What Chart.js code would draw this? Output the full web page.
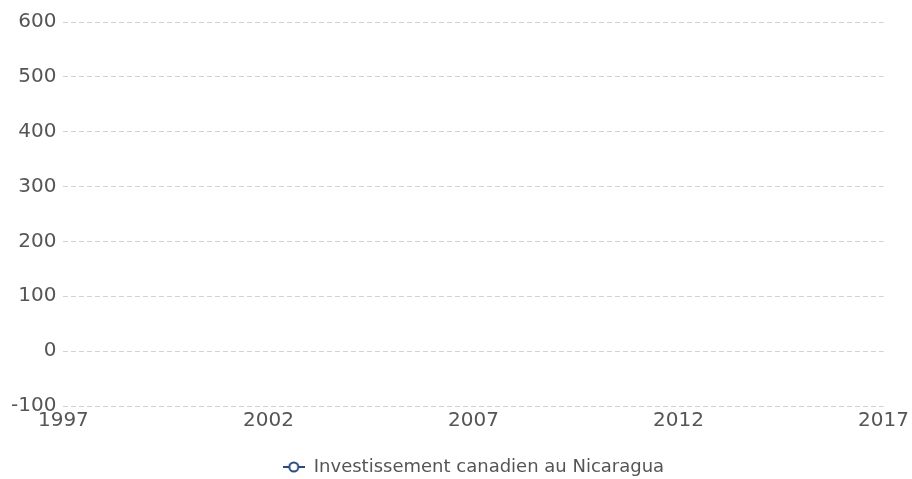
<!DOCTYPE html>
<html>
<head>
<meta charset="utf-8">
<script src="https://cdn.jsdelivr.net/npm/chart.js@4/dist/chart.umd.min.js"></script>
<style>
  html, body { margin: 0; padding: 0; background: #fff; }
  #wrap { width: 912px; height: 479px; }
</style>
</head>
<body>
<div id="wrap"><canvas id="invest__chart"></canvas></div>
<script>
// years shown on the axis, and the series (no value is drawn in the picture)
var years = [1997, 2002, 2007, 2012, 2017];
var investValues = [null, null, null, null, null];
var seriesLabel = 'Investissement canadien au Nicaragua';
var lineColor = '#2d4a7c';

// legend marker: short line through a hollow circle
var marker = document.createElement('canvas');
marker.width = 22; marker.height = 14;
var m = marker.getContext('2d');
m.strokeStyle = lineColor;
m.lineWidth = 2;
m.beginPath(); m.moveTo(0, 7); m.lineTo(22, 7); m.stroke();
m.beginPath(); m.arc(11, 7, 4.5, 0, Math.PI * 2);
m.fillStyle = '#fff'; m.fill(); m.stroke();

var ctx = document.getElementById('invest__chart').getContext('2d');
var chart = new Chart(ctx, {
    type: 'line',
    data: {
        datasets: [{
            label: seriesLabel,
            data: years.map(function (y, i) { return { x: y, y: investValues[i] }; }),
            borderColor: lineColor,
            backgroundColor: '#fff',
            pointStyle: 'circle',
            borderWidth: 2
        }]
    },
    options: {
        responsive: true,
        maintainAspectRatio: false,
        animation: false,
        layout: { padding: { top: 22, right: 0, left: 4, bottom: -7 } },
        plugins: {
            tooltip: { enabled: false },
            legend: {
                position: 'bottom',
                fullSize: false,
                labels: {
                    usePointStyle: true,
                    pointStyleWidth: 22,
                    color: '#555',
                    font: { family: 'DejaVu Sans', size: 18 },
                    padding: 22,
                    generateLabels: function (c) {
                        return [{
                            text: seriesLabel,
                            pointStyle: marker,
                            fontColor: '#555',
                            datasetIndex: 0
                        }];
                    }
                }
            }
        },
        scales: {
            x: {
                type: 'linear',
                min: 1997,
                max: 2017,
                ticks: {
                    stepSize: 5,
                    color: '#555',
                    padding: 3,
                    maxRotation: 0,
                    font: { family: 'DejaVu Sans', size: 20 },
                    callback: function (v) { return String(v); }
                },
                grid: { display: false, drawTicks: false },
                border: { display: false }
            },
            y: {
                min: -100,
                max: 600,
                ticks: {
                    stepSize: 100,
                    color: '#555',
                    padding: 7,
                    font: { family: 'DejaVu Sans', size: 20 }
                },
                grid: { color: '#d2d2d2', drawTicks: false },
                border: { display: false, dash: [5, 3] }
            }
        }
    }
});
</script>
</body>
</html>
